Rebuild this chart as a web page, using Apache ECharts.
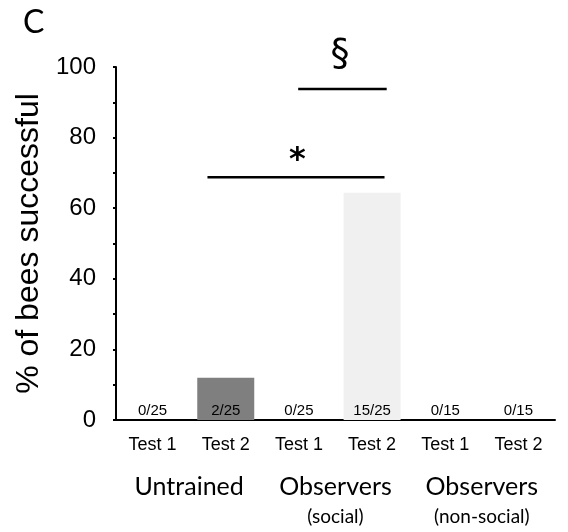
<!DOCTYPE html>
<html>
<head>
<meta charset="utf-8">
<script src="https://cdn.jsdelivr.net/npm/echarts@6/dist/echarts.min.js"></script>
<style>
  html, body { margin: 0; padding: 0; background: #fff; }
  #chart { width: 568px; height: 532px; }
</style>
</head>
<body>
<div id="chart"></div>
<script>
// Test sessions along the x axis, grouped by bee condition
const categories = ['Test 1', 'Test 2', 'Test 1', 'Test 2', 'Test 1', 'Test 2'];
const groups = ['Untrained', 'Observers', 'Observers'];
const groupNotes = ['', '(social)', '(non-social)'];

// Percentage of bees that solved the task, and the raw counts
const successPct = [0, 12, 0, 64.4, 0, 0];
const successCounts = ['0/25', '2/25', '0/25', '15/25', '0/15', '0/15'];

// y axis tick values
const yTicks = [0, 20, 40, 60, 80, 100];

// Significance brackets: [start index, end index, height in %], and their symbols
const bracketStar = [0.75, 3.17, 68.8];
const bracketSection = [1.99, 3.2, 93.8];
const sigSymbols = ['*', '§'];

const barColors = ['#ffffff', '#7f7f7f', '#ffffff', '#f0f0f0', '#ffffff', '#ffffff'];

const chart = echarts.init(document.getElementById('chart'), null, { renderer: 'canvas' });

const helv = 'Liberation Sans, Arial, sans-serif';
const calib = 'Lato, Open Sans, sans-serif';
const symFont = 'DejaVu Sans, sans-serif';

chart.setOption({
  animation: false,
  title: {
    text: 'C',
    left: 18,
    top: 2,
    textStyle: { fontFamily: calib, fontWeight: 'normal', fontSize: 32, color: '#000' }
  },
  grid: { left: 116, top: 67, width: 439, height: 353, containLabel: false },
  xAxis: [
    {
      type: 'category',
      data: categories,
      axisLine: { lineStyle: { color: '#000', width: 2 } },
      axisTick: { alignWithLabel: true, length: 4, lineStyle: { color: '#000', width: 2 } },
      axisLabel: { color: '#000', fontFamily: helv, fontSize: 18, margin: 16, interval: 0 }
    },
    {
      type: 'category',
      data: groups.map((g, i) => groupNotes[i] ? g + '\n{n|' + groupNotes[i] + '}' : g),
      position: 'bottom',
      offset: 52,
      axisLine: { show: false },
      axisTick: { show: false },
      axisLabel: {
        interval: 0,
        color: '#000',
        fontFamily: calib,
        fontSize: 25,
        lineHeight: 30,
        margin: 0,
        verticalAlign: 'top',
        rich: { n: { fontFamily: calib, fontSize: 19, color: '#000', lineHeight: 30 } }
      }
    },
    { type: 'value', min: -0.5, max: 5.5, show: false }
  ],
  yAxis: [
    {
      type: 'value',
      min: 0,
      max: 100,
      interval: 20,
      name: '% of bees successful',
      nameLocation: 'middle',
      nameGap: 66,
      nameTextStyle: { color: '#000', fontFamily: helv, fontSize: 32 },
      axisLine: { show: true, onZero: false, lineStyle: { color: '#000', width: 2 } },
      axisTick: { show: true, length: 3, lineStyle: { color: '#000', width: 2 } },
      minorTick: { show: true, splitNumber: 2, length: 3, lineStyle: { color: '#000', width: 2 } },
      splitLine: { show: false },
      axisLabel: {
        color: '#000', fontFamily: helv, fontSize: 24, margin: 20,
        formatter: v => (yTicks.indexOf(v) >= 0 ? String(v) : '')
      }
    },
    { type: 'value', min: 0, max: 100, show: false }
  ],
  series: [
    {
      type: 'bar',
      xAxisIndex: 0,
      yAxisIndex: 0,
      barWidth: 57,
      data: successPct.map((v, i) => ({ value: v, itemStyle: { color: barColors[i] } })),
      label: {
        show: true,
        position: 'insideBottom',
        distance: 2,
        color: '#000',
        fontFamily: helv,
        fontSize: 15,
        formatter: p => successCounts[p.dataIndex]
      }
    },
    {
      type: 'line',
      xAxisIndex: 2,
      yAxisIndex: 1,
      symbol: 'none',
      lineStyle: { color: '#000', width: 2.5 },
      data: [[bracketStar[0], bracketStar[2]], [bracketStar[1], bracketStar[2]]]
    },
    {
      type: 'line',
      xAxisIndex: 2,
      yAxisIndex: 1,
      symbol: 'none',
      clip: false,
      lineStyle: { color: '#000', width: 2.5 },
      data: [[bracketSection[0], bracketSection[2]], [bracketSection[1], bracketSection[2]]]
    },
    {
      type: 'scatter',
      xAxisIndex: 2,
      yAxisIndex: 1,
      clip: false,
      symbolSize: 0,
      itemStyle: { color: '#000' },
      label: {
        show: true,
        position: 'inside',
        color: '#000',
        opacity: 1,
        textBorderWidth: 0,
        fontFamily: symFont,
        formatter: p => sigSymbols[p.dataIndex]
      },
      data: [
        { value: [1.98, 73.5], label: { fontSize: 32, fontWeight: 'bold' } },
        { value: [2.56, 103.5], label: { fontSize: 38, fontWeight: 'normal' } }
      ]
    }
  ]
});
</script>
</body>
</html>
